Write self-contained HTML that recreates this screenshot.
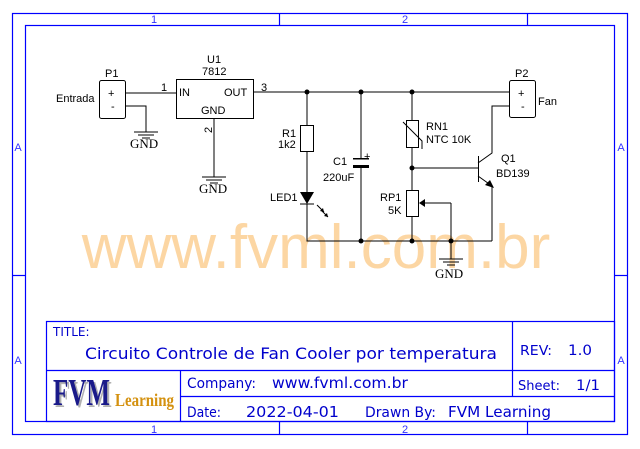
<!DOCTYPE html>
<html><head><meta charset="utf-8"><style>
html,body{margin:0;padding:0;background:#fff;}
svg{display:block;}
text{font-family:"Liberation Sans",sans-serif;}
</style></head><body>
<svg width="640" height="449" viewBox="0 0 640 449" xmlns="http://www.w3.org/2000/svg">
<g fill="none" stroke="#0000ff" stroke-width="1.2">
<rect x="12.5" y="13.5" width="615" height="421"/>
<rect x="25.5" y="25.5" width="589" height="396"/>
<line x1="279.5" y1="13" x2="279.5" y2="25"/>
<line x1="527.5" y1="13" x2="527.5" y2="25"/>
<line x1="279.5" y1="422" x2="279.5" y2="435"/>
<line x1="527.5" y1="422" x2="527.5" y2="435"/>
<line x1="12" y1="275.5" x2="25" y2="275.5"/>
<line x1="615" y1="275.5" x2="628" y2="275.5"/>
</g>
<g fill="#3333ff" font-size="11" text-anchor="middle">
<text x="154" y="23">1</text><text x="405" y="23">2</text>
<text x="154" y="433">1</text><text x="405" y="433">2</text>
<text x="18" y="151">A</text><text x="621" y="151">A</text>
<text x="18" y="364">A</text><text x="621" y="364">A</text>
</g>
<text x="316" y="268" font-size="62" fill="#fcd29a" text-anchor="middle" opacity="0.9">www.fvml.com.br</text>
<g stroke="#000" stroke-width="1" fill="none">
<rect x="99.5" y="80.5" width="26" height="38" rx="2"/>
<rect x="509.5" y="80.5" width="26" height="37" rx="2"/>
<rect x="176.5" y="79.5" width="77" height="39"/>
<path d="M125 93H176M253 92H509M125 106H146V132"/>
<path d="M214 118V177"/>
<path d="M134 132H158M138 135H154M142 138H150"/>
<path d="M202 177H226M206 180H222M210 183H218"/>
<path d="M307 92V125M307 151V192M307 204V241H492"/>
<rect x="300.5" y="125.5" width="13" height="26"/>
<path d="M300 204H314"/>
<path d="M361 92V159M361 168V241"/>
<path d="M412 92V120M412 147V190M412 216V241"/>
<rect x="406.5" y="120.5" width="12" height="27"/>
<path d="M403 122L422 141V149"/>
<rect x="406.5" y="190.5" width="12" height="26"/>
<path d="M451 203H421M451 203V259"/>
<path d="M439 259H463M443 262H459M447 265H455"/>
<path d="M412 168H478M478.5 156V182M478 163L492 153V106H509M478 176L492 186V241"/>
<path d="M317 205L324 212M321 210L328 217"/>
</g>
<g fill="#000">
<polygon points="300,192 314,192 307,204"/>
<polygon points="324,212 320,211 323,208"/>
<polygon points="328,217 324,216 327,213"/>
<polygon points="494,188 485,185 490,180"/>
<polygon points="419,203 425,199 425,207"/>
<rect x="353" y="158" width="16" height="1.5"/>
<rect x="353" y="165" width="16" height="3"/>
<circle cx="307" cy="92" r="2.5"/><circle cx="361" cy="92" r="2.5"/><circle cx="412" cy="92" r="2.5"/>
<circle cx="412" cy="168" r="2.5"/>
<circle cx="361" cy="241" r="2.5"/><circle cx="412" cy="241" r="2.5"/><circle cx="451" cy="241" r="2.5"/>
</g>
<g font-size="11" fill="#000">
<text x="105" y="77">P1</text>
<text x="56" y="102">Entrada</text>
<text x="108" y="97">+</text><text x="111" y="110">-</text>
<text x="207" y="63">U1</text><text x="202" y="75">7812</text>
<text x="179" y="96">IN</text><text x="224" y="96">OUT</text><text x="201" y="114">GND</text>
<text x="161" y="91">1</text><text x="261" y="91">3</text>
<text x="212" y="133" transform="rotate(-90 212 133)">2</text>
<text x="282" y="137">R1</text><text x="278" y="148">1k2</text>
<text x="270" y="201">LED1</text>
<text x="333" y="165">C1</text><text x="323" y="181">220uF</text>
<text x="364" y="160">+</text>
<text x="426" y="130">RN1</text><text x="426" y="143">NTC 10K</text>
<text x="380" y="201">RP1</text><text x="388" y="214">5K</text>
<text x="501" y="162">Q1</text><text x="496" y="177">BD139</text>
<text x="515" y="77">P2</text>
<text x="518" y="97">+</text><text x="521" y="110">-</text>
<text x="538" y="105">Fan</text>
</g>
<g font-size="13" fill="#000">
<text x="130" y="148" style="font-family:'Liberation Serif',serif">GND</text>
<text x="199" y="193" style="font-family:'Liberation Serif',serif">GND</text>
<text x="435" y="278" style="font-family:'Liberation Serif',serif">GND</text>
</g>
<g fill="none" stroke="#0000ff" stroke-width="1.2">
<rect x="46.5" y="321.5" width="568" height="100"/>
<line x1="46" y1="370.5" x2="615" y2="370.5"/>
<line x1="512.5" y1="321" x2="512.5" y2="396"/>
<line x1="180.5" y1="370" x2="180.5" y2="422"/>
<line x1="180" y1="396.5" x2="615" y2="396.5"/>
</g>
<g fill="#0000cc">
<text x="53" y="336" font-size="12" style="font-family:'DejaVu Sans',sans-serif">TITLE:</text>
<text x="85" y="359" font-size="16" textLength="412" lengthAdjust="spacingAndGlyphs" style="font-family:'DejaVu Sans',sans-serif">Circuito Controle de Fan Cooler por temperatura</text>
<text x="520" y="355" font-size="13" textLength="32" lengthAdjust="spacingAndGlyphs" style="font-family:'DejaVu Sans',sans-serif">REV:</text>
<text x="568" y="355" font-size="14" textLength="24" lengthAdjust="spacingAndGlyphs" style="font-family:'DejaVu Sans',sans-serif">1.0</text>
<text x="187" y="388" font-size="14" textLength="69" lengthAdjust="spacingAndGlyphs" style="font-family:'DejaVu Sans',sans-serif">Company:</text>
<text x="272" y="388" font-size="15" textLength="136" lengthAdjust="spacingAndGlyphs" style="font-family:'DejaVu Sans',sans-serif">www.fvml.com.br</text>
<text x="518" y="390" font-size="13" style="font-family:'DejaVu Sans',sans-serif">Sheet:</text>
<text x="576" y="390" font-size="14" textLength="24" lengthAdjust="spacingAndGlyphs" style="font-family:'DejaVu Sans',sans-serif">1/1</text>
<text x="187" y="417" font-size="14" textLength="34" lengthAdjust="spacingAndGlyphs" style="font-family:'DejaVu Sans',sans-serif">Date:</text>
<text x="246" y="417" font-size="15" textLength="93" lengthAdjust="spacingAndGlyphs" style="font-family:'DejaVu Sans',sans-serif">2022-04-01</text>
<text x="365" y="417" font-size="14" textLength="71" lengthAdjust="spacingAndGlyphs" style="font-family:'DejaVu Sans',sans-serif">Drawn By:</text>
<text x="448" y="417" font-size="15" textLength="103" lengthAdjust="spacingAndGlyphs" style="font-family:'DejaVu Sans',sans-serif">FVM Learning</text>
</g>
<text x="55" y="407" font-size="38" font-weight="bold" fill="#666" style="font-family:'Liberation Serif',serif" textLength="57" lengthAdjust="spacingAndGlyphs" opacity="0.5">FVM</text>
<text x="53" y="405" font-size="38" font-weight="bold" fill="#1a1a8a" style="font-family:'Liberation Serif',serif" textLength="57" lengthAdjust="spacingAndGlyphs">FVM</text>
<text x="115" y="406" font-size="18" font-weight="bold" fill="#d4910f" style="font-family:'Liberation Serif',serif" textLength="59" lengthAdjust="spacingAndGlyphs">Learning</text>
</svg>
</body></html>
